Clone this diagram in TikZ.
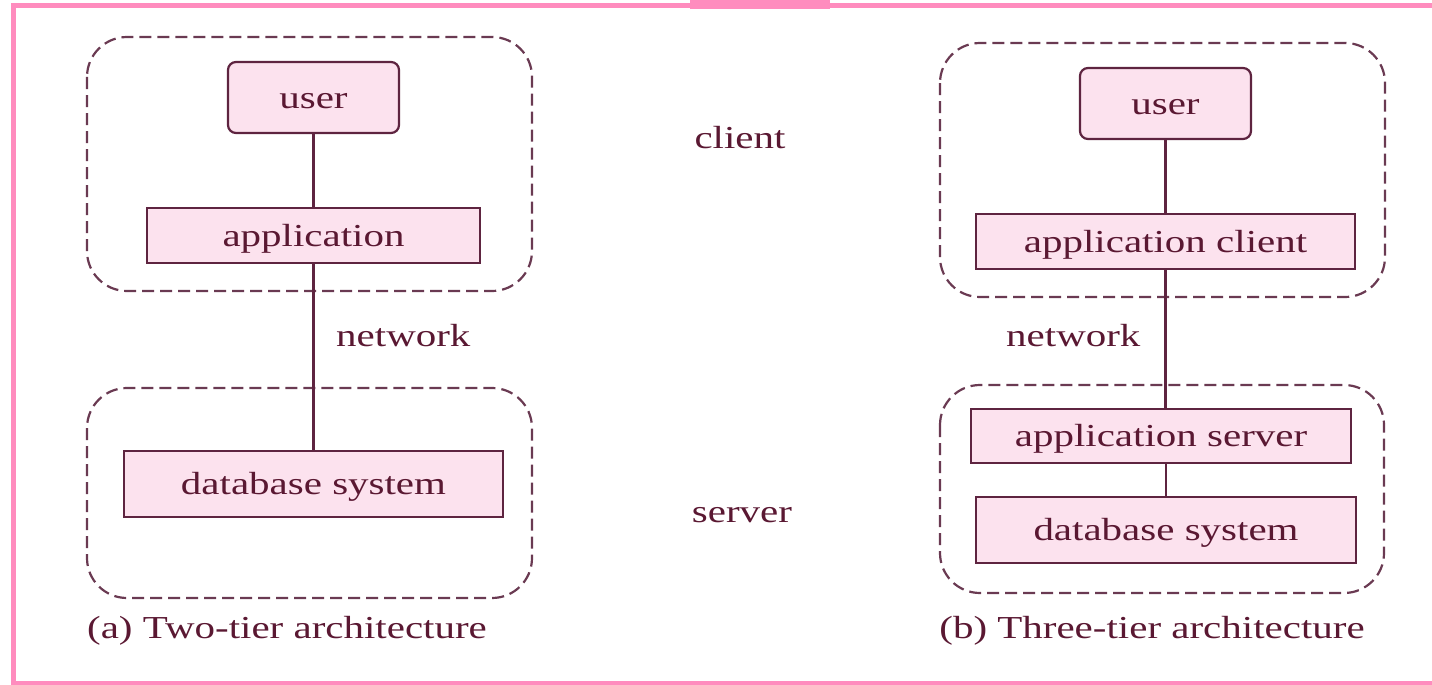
\documentclass[tikz,border=0pt]{standalone}
\usepackage{fontspec}
\setmainfont{Liberation Serif}
\definecolor{ink}{HTML}{5A1832}
\definecolor{edge}{HTML}{5E2440}
\definecolor{dashc}{HTML}{6A3A52}
\definecolor{boxfill}{HTML}{FCE2EE}
\definecolor{framepink}{HTML}{FF8CBE}
\newcommand{\wide}[1]{\scalebox{1.28}[1]{#1}}
\begin{document}
\begin{tikzpicture}[x=1pt,y=-1pt,
  every node/.style={font=\fontsize{32}{36}\selectfont, text=ink, inner sep=0pt},
  tierbox/.style={draw=edge, line width=2.2pt, fill=boxfill, rectangle,
    text height=26pt, text depth=5pt},
  userbox/.style={tierbox, rounded corners=8pt},
  group/.style={draw=dashc, line width=2.2pt, dash pattern=on 12pt off 6pt, rounded corners=40pt},
  link/.style={draw=edge, line width=2.2pt},
  label/.style={text height=26pt, text depth=5pt}]
\useasboundingbox (0,0) rectangle (1432,685);
% outer frame with tab
\draw[framepink, line width=5pt] (13.5,6) -- (1440,6);
\draw[framepink, line width=5pt] (13.5,3.5) -- (13.5,683.5) -- (1440,683.5);
\fill[framepink] (690,0) rectangle (830,9);

% (a) two-tier
\draw[group] (87,37) rectangle (532,291);
\draw[group] (87,388) rectangle (532,598);
\node[userbox, minimum width=171pt, minimum height=71pt] (ua) at (313.5,97.5) {\wide{user}};
\node[tierbox, minimum width=333pt, minimum height=55pt] (appa) at (313.5,235.5) {\wide{application}};
\node[tierbox, minimum width=379pt, minimum height=66pt] (dba) at (313.5,484) {\wide{database system}};
\draw[link] (ua) -- (appa);
\draw[link] (appa) -- (dba);
\node[label, anchor=west] (neta) at (336,336) {\wide{network}};

% middle labels
\node[label] (client) at (740,138) {\wide{client}};
\node[label] (server) at (742,512) {\wide{server}};

% (b) three-tier
\draw[group] (940,43) rectangle (1385,297);
\draw[group] (940,385) rectangle (1384,593);
\node[userbox, minimum width=171pt, minimum height=71pt] (ub) at (1165.5,103.5) {\wide{user}};
\node[tierbox, minimum width=379pt, minimum height=55pt] (appc) at (1165.5,241.5) {\wide{application client}};
\node[tierbox, minimum width=380pt, minimum height=54pt] (apps) at (1161,436) {\wide{application server}};
\node[tierbox, minimum width=380pt, minimum height=66pt] (dbb) at (1166,530) {\wide{database system}};
\draw[link] (ub) -- (appc);
\draw[link] (appc.south) -- (appc.south |- apps.north);
\draw[link] (apps.south -| dbb.north) -- (dbb.north);
\node[label, anchor=west] (netb) at (1006,336) {\wide{network}};

% captions
\node[label] (capa) at (287,628) {\wide{(a) Two-tier architecture}};
\node[label] (capb) at (1152,628) {\wide{(b) Three-tier architecture}};
\end{tikzpicture}
\end{document}
